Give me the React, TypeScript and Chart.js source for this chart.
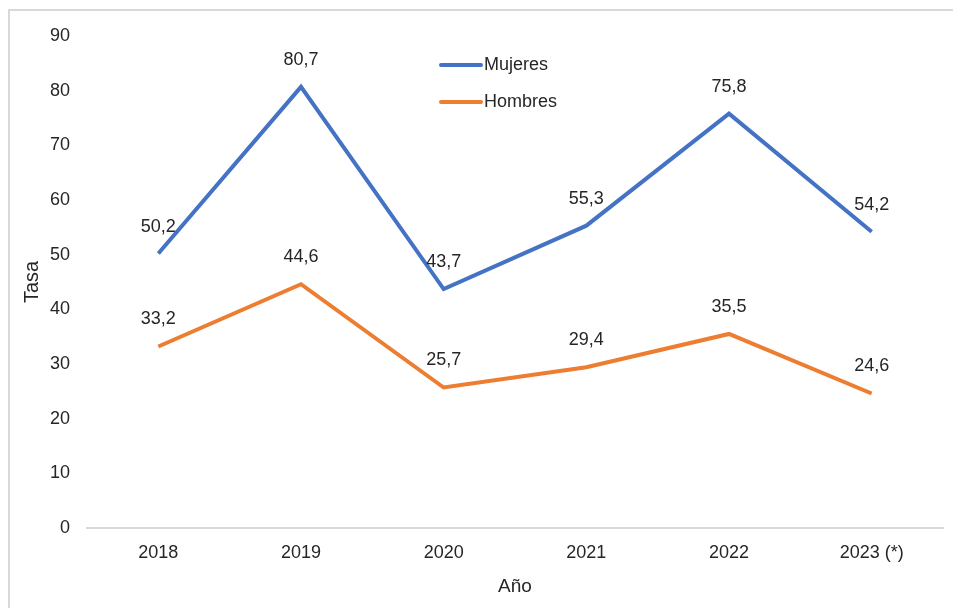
import React, { useEffect, useRef } from "react";
import { Chart, registerables } from "chart.js";

Chart.register(...registerables);

const categories = ["2018", "2019", "2020", "2021", "2022", "2023 (*)"];
const mujeres = [50.2, 80.7, 43.7, 55.3, 75.8, 54.2];
const hombres = [33.2, 44.6, 25.7, 29.4, 35.5, 24.6];
const seriesNames = ["Mujeres", "Hombres"];
const yTitle = "Tasa";
const xTitle = "Año";

const BLUE = "#4472C4";
const ORANGE = "#ED7D31";
const TEXT = "#262626";
const FONT = "'Liberation Sans', Arial, sans-serif";

const borderPlugin = {
  id: "frameBorder",
  beforeDraw(chart: any) {
    const ctx = chart.ctx;
    ctx.save();
    ctx.strokeStyle = "#d9d9d9";
    ctx.lineWidth = 2;
    ctx.beginPath();
    ctx.moveTo(9, chart.height);
    ctx.lineTo(9, 10);
    ctx.lineTo(chart.width, 10);
    ctx.stroke();
    ctx.restore();
  },
};

const labelPlugin = {
  id: "valueLabels",
  afterDatasetsDraw(chart: any) {
    const ctx = chart.ctx;
    ctx.save();
    ctx.font = `18px ${FONT}`;
    ctx.fillStyle = TEXT;
    ctx.textAlign = "center";
    ctx.textBaseline = "middle";
    chart.data.datasets.forEach((ds: any, i: number) => {
      const meta = chart.getDatasetMeta(i);
      meta.data.forEach((pt: any, j: number) => {
        const v = ds.data[j] as number;
        ctx.fillText(v.toFixed(1).replace(".", ","), pt.x, pt.y - 27);
      });
    });
    ctx.restore();
  },
};

const legendPlugin = {
  id: "customLegend",
  afterDraw(chart: any) {
    const ctx = chart.ctx;
    const items = [
      { name: seriesNames[0], color: BLUE, y: 65 },
      { name: seriesNames[1], color: ORANGE, y: 102 },
    ];
    ctx.save();
    ctx.font = `18px ${FONT}`;
    ctx.textBaseline = "middle";
    ctx.textAlign = "left";
    items.forEach((it) => {
      ctx.strokeStyle = it.color;
      ctx.lineWidth = 4;
      ctx.lineCap = "round";
      ctx.beginPath();
      ctx.moveTo(441, it.y);
      ctx.lineTo(481, it.y);
      ctx.stroke();
      ctx.fillStyle = TEXT;
      ctx.fillText(it.name, 484, it.y);
    });
    ctx.restore();
  },
};

export default function App() {
  const ref = useRef<HTMLCanvasElement | null>(null);
  useEffect(() => {
    document.body.style.margin = "0";
    if (!ref.current) return;
    const chart = new Chart(ref.current, {
      type: "line",
      data: {
        labels: categories,
        datasets: [
          {
            label: seriesNames[0],
            data: mujeres,
            borderColor: BLUE,
            backgroundColor: BLUE,
            borderWidth: 4,
            pointRadius: 0,
            tension: 0,
          },
          {
            label: seriesNames[1],
            data: hombres,
            borderColor: ORANGE,
            backgroundColor: ORANGE,
            borderWidth: 4,
            pointRadius: 0,
            tension: 0,
          },
        ],
      },
      options: {
        animation: false,
        responsive: false,
        layout: { padding: { top: 36, right: 10, left: 0, bottom: 0 } },
        plugins: {
          legend: { display: false },
          tooltip: { enabled: false },
        },
        scales: {
          x: {
            offset: true,
            grid: { display: false, drawTicks: false },
            border: { display: true, color: "#d9d9d9", width: 2 },
            ticks: { color: TEXT, font: { family: FONT, size: 18 }, padding: 14 },
            title: {
              display: true,
              text: xTitle,
              color: TEXT,
              font: { family: FONT, size: 19 },
              padding: { top: 0, bottom: 10 },
            },
            afterFit(scale: any) {
              scale.height = 80;
            },
          },
          y: {
            min: 0,
            max: 90,
            ticks: { stepSize: 10, color: TEXT, font: { family: FONT, size: 18 }, padding: 17 },
            grid: { display: false, drawTicks: false },
            border: { display: false },
            title: {
              display: true,
              text: yTitle,
              color: TEXT,
              font: { family: FONT, size: 20 },
              padding: { top: 20, bottom: 0 },
            },
            afterFit(scale: any) {
              scale.width = 87;
            },
          },
        },
      },
      plugins: [borderPlugin, labelPlugin, legendPlugin],
    });
    return () => chart.destroy();
  }, []);
  return <canvas ref={ref} width={953} height={608} style={{ display: "block" }} />;
}
